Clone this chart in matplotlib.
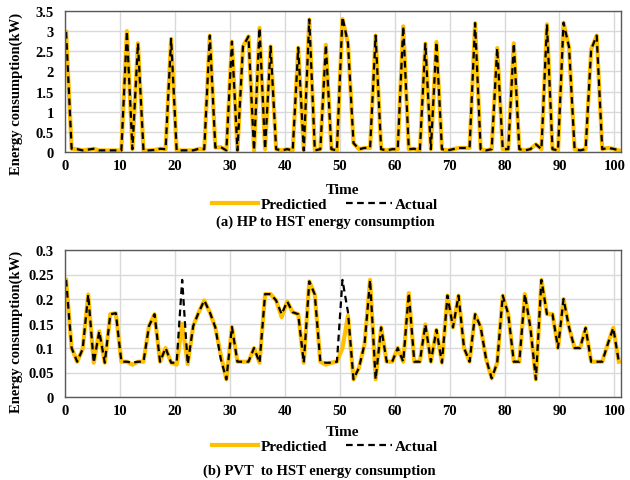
import numpy as np
import matplotlib.pyplot as plt

plt.rcParams['font.family'] = ['Liberation Serif', 'DejaVu Serif']
plt.rcParams['font.weight'] = 'bold'

# time steps (points sit slightly to the right of the integer ticks)
time = 0.2 + np.arange(101) * 1.006

# (a) HP to HST energy consumption (kW)
hp_actual = [2.98, 0.08, 0.07, 0.04, 0.06, 0.08, 0.04, 0.04, 0.04, 0.04,
             0.04, 3.0, 0.07, 2.70, 0.04, 0.04, 0.05, 0.08, 0.07, 2.81,
             0.04, 0.04, 0.04, 0.04, 0.08, 0.07, 2.89, 0.11, 0.12, 0.04,
             2.74, 0.04, 2.62, 2.87, 0.04, 3.08, 0.07, 2.62, 0.07, 0.04,
             0.07, 0.04, 2.59, 0.04, 3.29, 0.04, 0.07, 2.66, 0.07, 0.04,
             3.35, 2.70, 0.22, 0.07, 0.10, 0.10, 2.89, 0.07, 0.04, 0.07,
             0.07, 3.12, 0.07, 0.08, 0.04, 2.69, 0.07, 2.73, 0.07, 0.04,
             0.07, 0.10, 0.10, 0.10, 3.20, 0.07, 0.04, 0.07, 2.58, 0.07,
             0.07, 2.70, 0.07, 0.04, 0.07, 0.19, 0.07, 3.17, 0.07, 0.04,
             3.21, 2.60, 0.07, 0.04, 0.07, 2.55, 2.89, 0.07, 0.10, 0.08,
             0.04]
hp_pred = list(hp_actual)
hp_pred[50] = 3.30

# (b) PVT to HST energy consumption (kW)
pvt_actual = [0.239, 0.100, 0.072, 0.098, 0.209, 0.070, 0.134, 0.070, 0.169, 0.171,
              0.072, 0.072, 0.070, 0.072, 0.072, 0.145, 0.169, 0.072, 0.100, 0.070,
              0.070, 0.239, 0.067, 0.145, 0.173, 0.197, 0.173, 0.142, 0.077, 0.036,
              0.143, 0.072, 0.072, 0.072, 0.100, 0.070, 0.210, 0.210, 0.197, 0.169,
              0.195, 0.173, 0.169, 0.070, 0.236, 0.209, 0.072, 0.070, 0.070, 0.072,
              0.239, 0.173, 0.036, 0.060, 0.108, 0.239, 0.036, 0.142, 0.072, 0.072,
              0.100, 0.072, 0.212, 0.072, 0.072, 0.148, 0.072, 0.137, 0.070, 0.207,
              0.142, 0.207, 0.100, 0.072, 0.169, 0.143, 0.077, 0.038, 0.070, 0.207,
              0.169, 0.072, 0.072, 0.210, 0.142, 0.036, 0.239, 0.169, 0.169, 0.100,
              0.200, 0.142, 0.100, 0.100, 0.141, 0.072, 0.072, 0.072, 0.108, 0.141,
              0.072]
pvt_pred = list(pvt_actual)
pvt_pred[12] = 0.066
pvt_pred[20] = 0.066
pvt_pred[21] = 0.149
pvt_pred[28] = 0.085
pvt_pred[39] = 0.163
pvt_pred[47] = 0.066
pvt_pred[50] = 0.100
pvt_pred[51] = 0.166

W, H = 630, 481
fig = plt.figure(figsize=(W / 100, H / 100), dpi=100)


def px_axes(left, top, right, bottom):
    return fig.add_axes([left / W, 1 - bottom / H, (right - left) / W, (bottom - top) / H])


def style(ax, ymax, ystep, fmt, label_y):
    ax.set_xlim(0, 101.2)
    ax.set_ylim(0, ymax)
    ax.set_xticks(np.arange(0, 101, 10))
    ax.set_yticks(np.arange(0, ymax + ystep / 2, ystep))
    ax.set_yticklabels([fmt(v) for v in np.arange(0, ymax + ystep / 2, ystep)])
    ax.grid(True, color='#d9d9d9', linewidth=1)
    ax.set_axisbelow(True)
    ax.tick_params(length=0, labelsize=10.5)
    ax.tick_params(axis='y', pad=8)
    ax.tick_params(axis='x', pad=5)
    for s in ax.spines.values():
        s.set_color('#595959')
        s.set_linewidth(1)
    ax.set_ylabel('Energy consumption(kW)', fontsize=10.5, fontweight='bold')
    ax.yaxis.set_label_coords(-0.075, label_y)


def g(v):
    return ('%.2f' % v).rstrip('0').rstrip('.')


yellow = '#ffc000'

ax1 = px_axes(65, 12, 621, 153)
ax1.plot(time, hp_pred, color=yellow, lw=3, label='Predictied')
ax1.plot(time, hp_actual, color='black', lw=1.6, ls=(0, (3, 2)), label='Actual')
style(ax1, 3.5, 0.5, g, 0.42)
fig.text(343 / W, 1 - 191 / H, 'Time', ha='center', va='center', fontsize=11, fontweight='bold')
h, l = ax1.get_legend_handles_labels()
fig.legend(h, l, loc='center', bbox_to_anchor=(325 / W, 1 - 205 / H), ncol=2, frameon=False,
           fontsize=11, handlelength=3, handletextpad=0.2, columnspacing=1.2, borderpad=0)
fig.text(325 / W, 1 - 222 / H, '(a) HP to HST energy consumption', ha='center', va='center',
         fontsize=10.5, fontweight='bold')

ax2 = px_axes(65, 251, 621, 398)
ax2.plot(time, pvt_pred, color=yellow, lw=3, label='Predictied')
ax2.plot(time, pvt_actual, color='black', lw=1.6, ls=(0, (3, 2)), label='Actual')
style(ax2, 0.3, 0.05, g, 0.45)
fig.text(343 / W, 1 - 432 / H, 'Time', ha='center', va='center', fontsize=11, fontweight='bold')
h, l = ax2.get_legend_handles_labels()
fig.legend(h, l, loc='center', bbox_to_anchor=(325 / W, 1 - 447 / H), ncol=2, frameon=False,
           fontsize=11, handlelength=3, handletextpad=0.2, columnspacing=1.2, borderpad=0)
fig.text(319 / W, 1 - 471 / H, '(b) PVT  to HST energy consumption', ha='center', va='center',
         fontsize=10.5, fontweight='bold')

fig.savefig('out.png', dpi=100)
